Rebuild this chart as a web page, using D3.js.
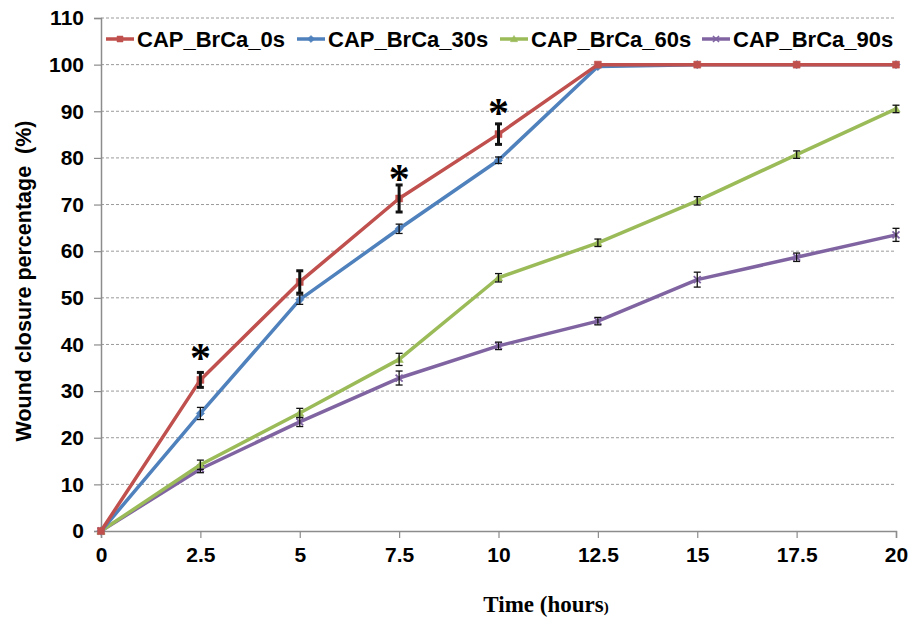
<!DOCTYPE html>
<html>
<head>
<meta charset="utf-8">
<script src="https://cdn.jsdelivr.net/npm/d3@7"></script>
<style>
  body { margin: 0; background: #fff; }
  svg { display: block; }
</style>
</head>
<body>
<svg id="chart" width="909" height="626"></svg>
<script>
const times = [0, 2.5, 5, 7.5, 10, 12.5, 15, 17.5, 20];
const xTickLabels = ["0", "2.5", "5", "7.5", "10", "12.5", "15", "17.5", "20"];
const yTicks = [0, 10, 20, 30, 40, 50, 60, 70, 80, 90, 100, 110];

const seriesNames = ["CAP_BrCa_0s", "CAP_BrCa_30s", "CAP_BrCa_60s", "CAP_BrCa_90s"];
const values0s  = [0, 32.4, 53.4, 71.3, 85.1, 100, 100, 100, 100];
const values30s = [0, 25.2, 49.6, 64.8, 79.5, 99.6, 100, 100, 100];
const values60s = [0, 14.2, 25.3, 36.8, 54.3, 61.8, 70.8, 80.7, 90.5];
const values90s = [0, 13.3, 23.4, 32.8, 39.7, 45.0, 53.9, 58.7, 63.5];

const err0s  = [0, 1.6, 2.4, 2.9, 2.2, 0.3, 0.3, 0.3, 0.3];
const err30s = [0, 1.3, 1.0, 1.0, 0.7, 0.3, 0.3, 0.3, 0.3];
const err60s = [0, 1.0, 1.0, 1.3, 0.9, 0.8, 0.9, 0.8, 0.8];
const err90s = [0, 0.8, 1.0, 1.5, 0.8, 0.8, 1.6, 0.9, 1.4];

const asteriskTimes = [2.5, 7.5, 10];
const asteriskValues = [38.8, 77.2, 91.3];

const colors = ["#C0504D", "#4F81BD", "#9BBB59", "#8064A2"];
const markers = ["square", "diamond", "triangle", "x"];

const allValues = [values0s, values30s, values60s, values90s];
const allErrs = [err0s, err30s, err60s, err90s];

const svg = d3.select("#chart");
const plotLeft = 101, plotRight = 896, plotTop = 18, plotBottom = 531;

const x = d3.scaleLinear().domain([0, 20]).range([plotLeft, plotRight]);
const y = d3.scaleLinear().domain([0, 110]).range([plotBottom, plotTop]);

// grid lines
svg.append("g").selectAll("line").data(yTicks.filter(d => d > 0)).join("line")
  .attr("x1", plotLeft).attr("x2", plotRight)
  .attr("y1", d => y(d)).attr("y2", d => y(d))
  .attr("stroke", "#9a9a9a").attr("stroke-width", 1)
  .attr("stroke-dasharray", "3,2");

// y axis
const yAxis = d3.axisLeft(y).tickValues(yTicks).tickSize(7).tickPadding(10).tickFormat(d3.format("d"));
const gy = svg.append("g").attr("transform", `translate(${plotLeft},0)`).call(yAxis);
gy.select(".domain").attr("stroke", "#8c8c8c").attr("stroke-width", 1.5);
gy.selectAll(".tick line").attr("stroke", "#8c8c8c").attr("stroke-width", 1.2);
gy.selectAll(".tick text").attr("font-family", "Liberation Sans, Arial, sans-serif")
  .attr("font-weight", "bold").attr("font-size", 21).attr("fill", "#000");

// x axis
const xAxis = d3.axisBottom(x).tickValues(times).tickSize(7).tickPadding(9)
  .tickFormat((d, i) => xTickLabels[i]);
const gx = svg.append("g").attr("transform", `translate(0,${plotBottom})`).call(xAxis);
gx.select(".domain").attr("stroke", "#8c8c8c").attr("stroke-width", 1.5);
gx.selectAll(".tick line").attr("stroke", "#8c8c8c").attr("stroke-width", 1.2);
gx.selectAll(".tick text").attr("font-family", "Liberation Sans, Arial, sans-serif")
  .attr("font-weight", "bold").attr("font-size", 21).attr("fill", "#000");

// axis titles
svg.append("text")
  .attr("transform", `translate(31,281) rotate(-90)`)
  .attr("text-anchor", "middle")
  .attr("font-family", "Liberation Sans, Arial, sans-serif")
  .attr("font-weight", "bold").attr("font-size", 21.5)
  .attr("xml:space", "preserve")
  .text("Wound closure percentage  (%)");

const xt = svg.append("text")
  .attr("x", 546).attr("y", 612)
  .attr("text-anchor", "middle")
  .attr("font-family", "Liberation Serif, Times New Roman, serif")
  .attr("font-weight", "bold").attr("font-size", 23);
xt.append("tspan").text("Time (hours");
xt.append("tspan").attr("font-size", 15).text(")");

function markerPath(type, size) {
  const s = size;
  if (type === "square") return `M${-s/2},${-s/2}h${s}v${s}h${-s}Z`;
  if (type === "diamond") return `M0,${-s*0.6}L${s*0.6},0L0,${s*0.6}L${-s*0.6},0Z`;
  if (type === "triangle") return `M0,${-s*0.6}L${s*0.6},${s*0.45}L${-s*0.6},${s*0.45}Z`;
  return `M${-s/2},${-s/2}L${s/2},${s/2}M${-s/2},${s/2}L${s/2},${-s/2}`;
}

const line = d3.line().x(d => x(d[0])).y(d => y(d[1]));

// draw series in reverse so red on top
[3, 2, 1, 0].forEach(i => {
  const pts = times.map((t, j) => [t, allValues[i][j], allErrs[i][j]]);
  const g = svg.append("g");
  g.append("path").datum(pts).attr("d", line)
    .attr("fill", "none").attr("stroke", colors[i]).attr("stroke-width", 3.5)
    .attr("stroke-linejoin", "round");
  g.selectAll("path.mk").data(pts).join("path").attr("class", "mk")
    .attr("transform", d => `translate(${x(d[0])},${y(d[1])})`)
    .attr("d", markerPath(markers[i], 7))
    .attr("fill", markers[i] === "x" ? "none" : colors[i])
    .attr("stroke", colors[i]).attr("stroke-width", markers[i] === "x" ? 1.8 : 0.5);
  const thick = i === 0;
  const eb = g.selectAll("g.eb").data(pts.filter(d => d[2] > 0.5)).join("g").attr("class", "eb");
  eb.append("line")
    .attr("x1", d => x(d[0])).attr("x2", d => x(d[0]))
    .attr("y1", d => y(d[1] - d[2])).attr("y2", d => y(d[1] + d[2]))
    .attr("stroke", "#111").attr("stroke-width", thick ? 3 : 1.3);
  [-1, 1].forEach(sgn => {
    eb.append("line")
      .attr("x1", d => x(d[0]) - 3.5).attr("x2", d => x(d[0]) + 3.5)
      .attr("y1", d => y(d[1] + sgn * d[2])).attr("y2", d => y(d[1] + sgn * d[2]))
      .attr("stroke", "#111").attr("stroke-width", thick ? 3 : 1.3);
  });
});

// asterisks
svg.append("g").selectAll("text").data(asteriskTimes).join("text")
  .attr("x", d => x(d)).attr("y", (d, i) => y(asteriskValues[i]) + 22)
  .attr("text-anchor", "middle")
  .attr("font-family", "Liberation Serif, Times New Roman, serif")
  .attr("font-weight", "bold")
  .attr("font-size", 42).attr("fill", "#000")
  .text("*");

// legend
const legendTextX = [137, 328, 531, 733];
const lg = svg.append("g");
seriesNames.forEach((name, i) => {
  const tx = legendTextX[i];
  lg.append("line").attr("x1", tx - 31).attr("x2", tx - 3).attr("y1", 39).attr("y2", 39)
    .attr("stroke", colors[i]).attr("stroke-width", 3.5);
  lg.append("path").attr("transform", `translate(${tx - 17},39)`)
    .attr("d", markerPath(markers[i], 6))
    .attr("fill", markers[i] === "x" ? "none" : colors[i])
    .attr("stroke", colors[i]).attr("stroke-width", markers[i] === "x" ? 1.6 : 0.5);
  lg.append("text").attr("x", tx).attr("y", 47)
    .attr("font-family", "Liberation Sans, Arial, sans-serif")
    .attr("font-weight", "bold").attr("font-size", 22).attr("fill", "#000")
    .text(name);
});
</script>
</body>
</html>
